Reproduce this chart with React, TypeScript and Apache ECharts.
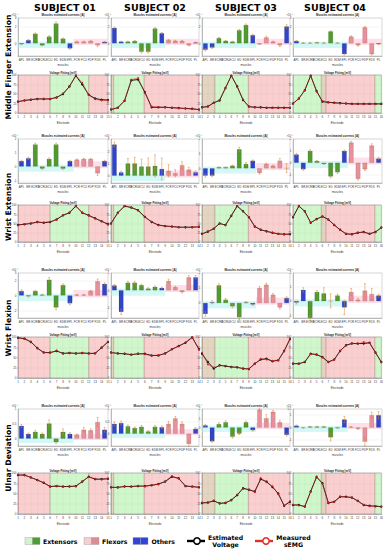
import React, { useEffect, useRef } from "react";
import * as echarts from "echarts";

// ---------------- DATA ----------------
const subjects = ["SUBJECT 01", "SUBJECT 02", "SUBJECT 03", "SUBJECT 04"];
const movements = ["Middle Finger Extension", "Wrist Extension", "Wrist Flexion", "Ulnar Deviation"];
const muscles = ["APL", "BR", "ECRB", "ECRL", "ECU", "ED", "EDM", "EPL", "FCR", "FCU", "FDP", "FDS", "PL"];
const muscleGroup = ["o", "o", "e", "e", "e", "e", "e", "o", "f", "f", "f", "f", "o"];
const electrodeCounts = [15, 14, 16, 16];

// muscle estimated currents (x10^-4 A), one row per subject
const currentsMiddleFinger = [
  [-0.1, 0.38, 1.14, -0.24, 0.8, 2.35, 0.55, -0.6, 0.2, 0.2, 0.28, -0.24, 0.17],
  [1.83, 0.2, 0.2, 0.28, -1.0, -1.0, 1.76, 1.2, 0.38, 0.3, 0.28, -0.24, 0.1],
  [-0.76, -0.5, 0.62, 0.3, 0.2, 1.55, 2.17, 0.97, -0.1, 0.7, 0.2, -0.24, 2.0],
  [0.28, 0.05, 0.05, 0.1, 0.05, 1.41, 0.05, -1.28, 0.8, -0.24, 1.9, -1.28, -0.1],
];
const currentsWristExt = [
  [0.4, 0.6, 1.6, -0.15, 0.55, 1.6, -0.15, 0.4, 0.5, 0.55, 0.55, -0.5, 0.4],
  [2.55, 0.27, 1.0, 1.0, 0.75, 0.75, 0.8, 0.55, 0.4, 0.2, 0.85, 0.5, 0.27],
  [-0.5, -0.5, 0.07, 0.07, 0.18, 1.3, 0.3, 0.52, -0.32, 0.3, 0.18, 0.52, 0.02],
  [0.7, -0.55, 1.0, 0.15, -0.1, -1.15, -0.8, 1.0, 1.7, -1.35, -0.55, 1.45, 0.35],
];
const currentsWristFlex = [
  [0.6, -0.1, 0.6, 0.1, 2.1, -1.6, 1.4, -1.05, 0.1, 0.1, 0.6, 1.9, 1.55],
  [0.28, -1.25, 0.44, 0.44, 0.3, 0.1, 0.2, 0.14, 0.54, 0.18, -0.1, 0.75, 0.75],
  [-0.73, 0.05, 1.18, 0.22, -0.22, -0.95, 0.05, -0.1, 1.0, 1.22, 0.55, -0.3, 0.33],
  [-0.1, 0.8, -1.2, 0.65, 0.55, 0.02, 0.4, -0.45, 0.65, 0.1, 0.75, 0.5, 0.4],
];
const currentsUlnar = [
  [0.43, 0.16, 0.23, 0.16, 0.51, -0.12, 0.23, 0.16, 0.13, 0.3, 0.28, 0.56, 0.3],
  [0.4, 0.43, 0.3, 0.23, 0.28, 0.09, 0.28, 0.26, 0.4, 0.62, 0.4, -0.42, 0.2],
  [0.23, -1.5, 0.37, 0.57, -1.0, -0.66, 0.57, -0.29, 1.94, 1.0, 1.7, 0.57, -0.8],
  [0.15, -0.03, 0.07, 0.07, 0.07, -0.8, -0.05, 0.65, 0.05, -0.1, -1.15, 1.0, 1.0],
];

// error bars (same units)
const errMiddleFinger = [
  [0.05, 0.08, 0.1, 0.05, 0.1, 0.2, 0.08, 0.1, 0.05, 0.05, 0.08, 0.15, 0.05],
  [0.1, 0.05, 0.05, 0.06, 0.15, 0.15, 0.1, 0.08, 0.08, 0.06, 0.05, 0.06, 0.05],
  [0.15, 0.1, 0.08, 0.05, 0.05, 0.1, 0.12, 0.1, 0.05, 0.15, 0.05, 0.15, 0.2],
  [0.05, 0.03, 0.03, 0.03, 0.03, 0.08, 0.03, 0.1, 0.1, 0.08, 0.1, 0.1, 0.05],
];
const errWristExt = [
  [0.05, 0.08, 0.1, 0.05, 0.08, 0.1, 0.05, 0.05, 0.05, 0.05, 0.05, 0.15, 0.05],
  [0.2, 0.1, 0.4, 0.5, 0.6, 0.7, 0.9, 0.9, 0.5, 0.3, 0.3, 0.2, 0.1],
  [0.1, 0.08, 0.03, 0.03, 0.05, 0.15, 0.1, 0.05, 0.08, 0.05, 0.05, 0.15, 0.3],
  [0.1, 0.08, 0.1, 0.05, 0.03, 0.12, 0.1, 0.08, 0.1, 0.1, 0.1, 0.15, 0.1],
];
const errWristFlex = [
  [0.15, 0.1, 0.1, 0.05, 0.3, 0.3, 0.15, 0.2, 0.05, 0.05, 0.1, 0.3, 0.15],
  [0.05, 0.15, 0.08, 0.08, 0.05, 0.05, 0.05, 0.05, 0.1, 0.05, 0.05, 0.1, 0.1],
  [0.15, 0.1, 0.1, 0.08, 0.1, 0.15, 0.05, 0.05, 0.1, 0.1, 0.08, 0.1, 0.08],
  [0.1, 0.15, 0.2, 0.1, 0.4, 0.5, 0.1, 0.5, 0.25, 0.1, 0.5, 0.4, 0.1],
];
const errUlnar = [
  [0.05, 0.03, 0.05, 0.03, 0.12, 0.05, 0.1, 0.04, 0.03, 0.08, 0.05, 0.15, 0.08],
  [0.08, 0.08, 0.05, 0.04, 0.05, 0.03, 0.05, 0.05, 0.1, 0.08, 0.08, 0.1, 0.04],
  [0.1, 0.1, 0.15, 0.15, 0.15, 0.1, 0.12, 0.08, 0.15, 0.4, 0.15, 0.2, 0.12],
  [0.05, 0.03, 0.03, 0.03, 0.03, 0.3, 0.03, 0.25, 0.03, 0.05, 0.35, 0.25, 0.3],
];

// bar axis ranges [min, max]
const rangeMiddleFinger = [[-1.5, 3], [-1.5, 3], [-1.5, 3], [-1.5, 3]];
const rangeWristExt = [[-1.2, 2], [-0.6, 3], [-1, 2], [-1.7, 2]];
const rangeWristFlex = [[-3, 3], [-1.6, 1], [-1, 2], [-1.2, 2]];
const rangeUlnar = [[-0.25, 1], [-0.5, 1], [-2, 2], [-1.5, 1.5]];

// voltage fitting: estimated (black) and measured sEMG (red)
const voltEstMiddleFinger = [
  [30, 33, 35, 37, 37, 37, 41, 50, 70, 98, 75, 48, 38, 35, 34],
  [9, 14, 32, 86, 88, 55, 15, 15, 15, 14, 13, 12, 11, 9],
  [15, 17, 27, 33, 66, 98, 70, 34, 17, 15, 15, 14, 14, 14, 14, 14],
  [25, 38, 60, 98, 58, 30, 28, 27, 26, 25, 24, 24, 24, 24, 24, 24],
];
const voltMeasMiddleFinger = [
  [29, 33, 36, 36, 38, 37, 40, 52, 69, 99, 80, 47, 36, 33, 33],
  [10, 13, 33, 88, 92, 52, 17, 16, 15, 14, 12, 12, 10, 9],
  [14, 18, 26, 35, 65, 99, 68, 36, 16, 15, 14, 14, 13, 14, 13, 14],
  [24, 39, 59, 99, 56, 32, 29, 26, 25, 25, 23, 24, 23, 24, 23, 25],
];
const voltEstWristExt = [
  [46, 48, 50, 54, 52, 54, 61, 72, 79, 97, 79, 72, 64, 56, 48],
  [50, 79, 97, 93, 86, 68, 54, 46, 43, 42, 40, 40, 40, 41],
  [22, 28, 36, 50, 46, 71, 97, 83, 67, 42, 33, 29, 25, 22, 21, 21],
  [67, 97, 83, 52, 62, 69, 61, 46, 33, 22, 21, 25, 27, 22, 27, 39],
];
const voltMeasWristExt = [
  [45, 49, 51, 53, 53, 55, 60, 73, 80, 98, 80, 71, 63, 57, 47],
  [51, 78, 98, 94, 85, 67, 55, 45, 43, 41, 40, 39, 40, 42],
  [21, 29, 35, 51, 45, 72, 98, 82, 68, 41, 34, 28, 26, 22, 20, 22],
  [68, 98, 82, 53, 61, 70, 60, 47, 32, 23, 20, 26, 26, 23, 26, 40],
];
const voltEstWristFlex = [
  [98, 96, 88, 73, 62, 62, 66, 60, 61, 60, 61, 60, 60, 74, 88],
  [62, 60, 59, 57, 59, 59, 55, 55, 60, 70, 78, 86, 99, 70],
  [59, 39, 23, 31, 29, 27, 26, 23, 22, 35, 45, 47, 41, 43, 66, 95],
  [35, 35, 39, 59, 57, 51, 39, 45, 66, 80, 84, 84, 84, 86, 62, 39],
];
const voltMeasWristFlex = [
  [99, 95, 89, 72, 63, 61, 67, 59, 62, 59, 62, 59, 61, 73, 89],
  [63, 59, 60, 56, 60, 58, 54, 56, 59, 71, 77, 87, 100, 69],
  [62, 33, 26, 30, 30, 26, 27, 22, 23, 34, 47, 45, 42, 44, 65, 97],
  [36, 34, 40, 58, 58, 50, 40, 44, 67, 79, 85, 83, 88, 85, 63, 38],
];
const voltEstUlnar = [
  [95, 95, 89, 83, 76, 67, 68, 67, 67, 68, 79, 91, 85, 85, 86],
  [65, 65, 67, 67, 68, 68, 70, 73, 79, 91, 87, 68, 67, 65],
  [27, 28, 32, 26, 27, 34, 46, 63, 59, 55, 85, 79, 66, 50, 20, 30],
  [22, 22, 18, 55, 90, 75, 27, 30, 42, 42, 40, 32, 22, 20, 19, 18],
];
const voltMeasUlnar = [
  [96, 94, 90, 82, 77, 66, 69, 66, 68, 67, 80, 90, 86, 84, 87],
  [66, 64, 68, 66, 69, 67, 71, 72, 80, 93, 86, 69, 66, 66],
  [28, 27, 33, 25, 28, 33, 48, 61, 60, 53, 88, 77, 68, 48, 21, 31],
  [23, 21, 19, 54, 92, 74, 28, 29, 43, 41, 41, 31, 23, 19, 20, 17],
];

// electrode regions over the muscles, per subject: [from, to, kind]
const regionsS01 = [[1, 6, "f"], [6, 12, "e"], [12, 15, "f"]];
const regionsS02 = [[1, 1.4, "b"], [1.4, 5.9, "e"], [5.9, 14, "f"]];
const regionsS03 = [[1, 3.2, "b"], [3.2, 8.9, "e"], [8.9, 16, "f"]];
const regionsS04 = [[1, 5.8, "e"], [5.8, 6.6, "b"], [6.6, 14.9, "f"], [14.9, 16, "e"]];

// ---------------- LAYOUT / STYLE ----------------
const currents = [currentsMiddleFinger, currentsWristExt, currentsWristFlex, currentsUlnar];
const errors = [errMiddleFinger, errWristExt, errWristFlex, errUlnar];
const ranges = [rangeMiddleFinger, rangeWristExt, rangeWristFlex, rangeUlnar];
const voltEst = [voltEstMiddleFinger, voltEstWristExt, voltEstWristFlex, voltEstUlnar];
const voltMeas = [voltMeasMiddleFinger, voltMeasWristExt, voltMeasWristFlex, voltMeasUlnar];
const regions = [regionsS01, regionsS02, regionsS03, regionsS04];

const COLS = [[18, 108], [111, 199], [202, 290], [293, 382]];
const BAR_ROWS = [[18, 56], [139, 183], [273, 318], [409, 446]];
const VOLT_ROWS = [[75, 113], [205, 242], [337, 378], [473, 514]];
const HEADER_X = [65, 155, 246, 335];
const ROW_LABEL_Y = [67, 207, 328, 458];

const GROUP_COLORS: Record<string, string> = { o: "#2f44c8", e: "#4f9b2f", f: "#e8909b" };
const REGION_COLORS: Record<string, string> = {
  e: "rgba(150,235,140,0.45)",
  f: "rgba(240,140,140,0.42)",
  b: "rgba(195,160,120,0.45)",
};
const FONT = "'Liberation Sans', Arial, sans-serif";
const BOLD_FONT = "'DejaVu Sans', 'Liberation Sans', sans-serif";
const TICK_FONT = 3;

function buildOption() {
  const grids: any[] = [];
  const xAxes: any[] = [];
  const yAxes: any[] = [];
  const series: any[] = [];
  const graphics: any[] = [];

  for (let r = 0; r < 4; r++) {
    for (let c = 0; c < 4; c++) {
      const [x0, x1] = COLS[c];
      const [by0, by1] = BAR_ROWS[r];
      const [vy0, vy1] = VOLT_ROWS[r];
      const [ymin, ymax] = ranges[r][c];
      const vals = currents[r][c];
      const errs = errors[r][c];
      const cx = (x0 + x1) / 2;

      // ---- bar panel ----
      const bi = grids.length;
      grids.push({ left: x0, top: by0, width: x1 - x0, height: by1 - by0, show: true, borderColor: "#b0b0b0", borderWidth: 0.5 });
      xAxes.push({
        type: "category", gridIndex: bi, data: muscles,
        axisLine: { onZero: false, lineStyle: { color: "#888", width: 0.5 } },
        axisTick: { length: 1, lineStyle: { width: 0.4 } },
        axisLabel: { fontSize: TICK_FONT, interval: 0, margin: 1.8, color: "#444", fontFamily: FONT, hideOverlap: false },
        name: "muscles", nameLocation: "middle", nameGap: 7,
        nameTextStyle: { fontSize: 3, color: "#333", fontFamily: FONT },
      });
      yAxes.push({
        type: "value", gridIndex: bi, min: ymin, max: ymax, splitNumber: 3,
        axisLine: { show: true, lineStyle: { color: "#888", width: 0.5 } },
        axisTick: { length: 1, lineStyle: { width: 0.4 } },
        axisLabel: { fontSize: TICK_FONT, margin: 1.5, color: "#444", showMinLabel: false, fontFamily: FONT },
        splitLine: { lineStyle: { color: "#e4e4e4", width: 0.4 } },
        name: "×10⁻⁴", nameGap: 1.5, nameTextStyle: { fontSize: 2.6, color: "#333", align: "right", fontFamily: FONT },
      });
      const span = ymax - ymin;
      series.push({
        type: "bar", xAxisIndex: bi, yAxisIndex: bi, barWidth: "68%",
        data: vals.map((v, i) => ({
          value: v,
          itemStyle: { color: GROUP_COLORS[muscleGroup[i]], borderColor: "rgba(0,0,0,0.35)", borderWidth: 0.3 },
        })),
        markArea: {
          silent: true,
          data: [
            [{ xAxis: "APL", yAxis: -0.12 * span, itemStyle: { color: "rgba(160,240,235,0.45)" } }, { xAxis: "EPL", yAxis: 0.04 * span }],
            [{ xAxis: "FCR", yAxis: -0.04 * span, itemStyle: { color: "rgba(255,185,205,0.45)" } }, { xAxis: "PL", yAxis: 0.12 * span }],
          ],
        },
        z: 3,
      });
      series.push({
        type: "custom", xAxisIndex: bi, yAxisIndex: bi, z: 5,
        encode: { x: 0, y: 1 },
        data: vals.map((v, i) => [i, v, errs[i]]),
        renderItem: (params: any, api: any) => {
          const x = api.value(0), v = api.value(1), e = api.value(2);
          const top = api.coord([x, v + e]);
          const bot = api.coord([x, v - e]);
          const w = 0.9;
          const st = { stroke: "#d9822b", lineWidth: 0.5 };
          return {
            type: "group",
            children: [
              { type: "line", shape: { x1: top[0], y1: top[1], x2: bot[0], y2: bot[1] }, style: st },
              { type: "line", shape: { x1: top[0] - w, y1: top[1], x2: top[0] + w, y2: top[1] }, style: st },
              { type: "line", shape: { x1: bot[0] - w, y1: bot[1], x2: bot[0] + w, y2: bot[1] }, style: st },
            ],
          };
        },
      });
      graphics.push({
        type: "text", x: cx, y: by0 - 3.5,
        style: { text: "Muscles estimated currents [A]", fontSize: 2.9, fontWeight: "bold", fill: "#222", align: "center", verticalAlign: "middle", fontFamily: FONT },
      });

      // ---- voltage panel ----
      const n = electrodeCounts[c];
      const vi = grids.length;
      grids.push({ left: x0, top: vy0, width: x1 - x0, height: vy1 - vy0, show: true, borderColor: "#b0b0b0", borderWidth: 0.5 });
      xAxes.push({
        type: "value", gridIndex: vi, min: 1, max: n, interval: 1,
        axisLine: { onZero: false, lineStyle: { color: "#888", width: 0.5 } },
        axisTick: { length: 1, lineStyle: { width: 0.4 } },
        axisLabel: { fontSize: TICK_FONT, margin: 2, color: "#444", fontFamily: FONT, hideOverlap: false },
        splitLine: { show: true, lineStyle: { color: "rgba(150,150,150,0.22)", width: 0.4 } },
        name: "Electrode", nameLocation: "middle", nameGap: 8,
        nameTextStyle: { fontSize: 3, color: "#333", fontFamily: FONT },
      });
      yAxes.push({
        type: "value", gridIndex: vi, min: 0, max: 100, interval: 25,
        axisLine: { show: true, lineStyle: { color: "#888", width: 0.5 } },
        axisTick: { length: 1, lineStyle: { width: 0.4 } },
        axisLabel: { fontSize: TICK_FONT, margin: 1.5, color: "#444", fontFamily: FONT },
        splitLine: { lineStyle: { color: "rgba(150,150,150,0.22)", width: 0.4 } },
      });
      series.push({
        type: "line", xAxisIndex: vi, yAxisIndex: vi,
        data: voltEst[r][c].map((v, i) => [i + 1, v]),
        symbol: "circle", symbolSize: 2.4,
        lineStyle: { color: "#1a1a1a", width: 1 },
        itemStyle: { color: "#1a1a1a" },
        markArea: {
          silent: true,
          data: regions[c].map(([a, b, k]) => [
            { xAxis: a, itemStyle: { color: REGION_COLORS[k as string], borderColor: "rgba(110,80,60,0.45)", borderWidth: 0.4 } },
            { xAxis: b },
          ]),
        },
        z: 3,
      });
      series.push({
        type: "line", xAxisIndex: vi, yAxisIndex: vi,
        data: voltMeas[r][c].map((v, i) => [i + 1, v]),
        symbol: "circle", symbolSize: 1.6,
        lineStyle: { color: "#d0201c", width: 0.6, opacity: 0.75 },
        itemStyle: { color: "#d0201c" },
        z: 4,
      });
      graphics.push({
        type: "text", x: cx, y: vy0 - 2.5,
        style: { text: "Voltage Fitting [mV]", fontSize: 2.9, fontWeight: "bold", fill: "#222", align: "center", verticalAlign: "middle", fontFamily: FONT },
      });
    }
  }

  // headers
  subjects.forEach((s, i) => {
    graphics.push({
      type: "text", x: HEADER_X[i], y: 7,
      style: { text: s, fontSize: 9.5, fontWeight: "bold", fill: "#000", align: "center", verticalAlign: "middle", fontFamily: BOLD_FONT },
    });
  });
  movements.forEach((m, i) => {
    graphics.push({
      type: "text", x: 8, y: ROW_LABEL_Y[i], rotation: Math.PI / 2,
      style: { text: m, fontSize: 7.7, fontWeight: "bold", fill: "#000", align: "center", verticalAlign: "middle", fontFamily: BOLD_FONT },
    });
  });

  // legend
  const ly = 541;
  const legText = (text: string, x: number, y: number, align = "left") => ({
    type: "text", x, y,
    style: { text, fontSize: 6.2, fontWeight: "bold", fill: "#000", align, verticalAlign: "middle", fontFamily: BOLD_FONT },
  });
  const box = (x: number, c1: string, c2: string) => ([
    { type: "rect", shape: { x, y: ly - 3.5, width: 7.5, height: 7 }, style: { fill: c1, stroke: "#999", lineWidth: 0.4 } },
    { type: "rect", shape: { x: x + 7.5, y: ly - 3.5, width: 7.5, height: 7 }, style: { fill: c2, stroke: "#999", lineWidth: 0.4 } },
  ]);
  graphics.push(...box(25, "#d2f3cc", "#48a035"), legText("Extensors", 43, ly));
  graphics.push(...box(84, "#f4cfcf", "#d98e96"), legText("Flexors", 102, ly));
  graphics.push(...box(133, "#2f44d8", "#2f44d8"), legText("Others", 151.5, ly));
  graphics.push(
    { type: "line", shape: { x1: 187, y1: ly, x2: 205, y2: ly }, style: { stroke: "#000", lineWidth: 2.4 } },
    { type: "circle", shape: { cx: 197, cy: ly, r: 3.2 }, style: { fill: "#fff", stroke: "#000", lineWidth: 1.5 } },
    legText("Estimated", 225.5, ly - 4, "center"),
    legText("Voltage", 225.5, ly + 3.5, "center"),
    { type: "line", shape: { x1: 255, y1: ly, x2: 273, y2: ly }, style: { stroke: "#e0302a", lineWidth: 2.4 } },
    { type: "circle", shape: { cx: 266, cy: ly, r: 3.2 }, style: { fill: "#fff", stroke: "#e0302a", lineWidth: 1.5 } },
    legText("Measured", 293.5, ly - 4, "center"),
    legText("sEMG", 293.5, ly + 3.5, "center"),
  );

  return {
    animation: false,
    backgroundColor: "#fff",
    grid: grids,
    xAxis: xAxes,
    yAxis: yAxes,
    series,
    graphic: graphics,
  };
}

export default function App() {
  const ref = useRef<HTMLDivElement>(null);
  useEffect(() => {
    document.body.style.margin = "0";
    const chart = echarts.init(ref.current!, null, { renderer: "svg" });
    chart.setOption(buildOption() as any);
    return () => chart.dispose();
  }, []);
  return <div ref={ref} style={{ width: 386, height: 550 }} />;
}
